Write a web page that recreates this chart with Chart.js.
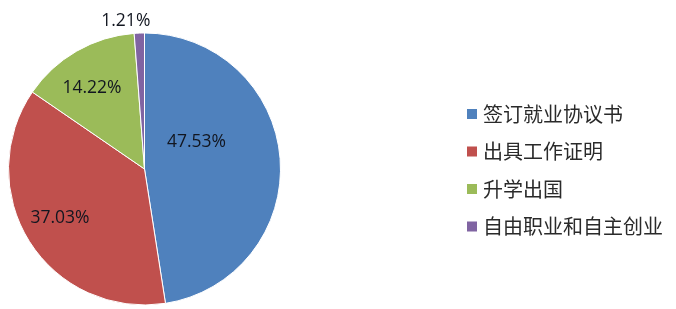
<!DOCTYPE html>
<html>
<head>
<meta charset="utf-8">
<script src="https://cdn.jsdelivr.net/npm/chart.js@4.4.0/dist/chart.umd.min.js"></script>
<style>
html,body{margin:0;padding:0;background:#fff;}
#wrap{position:relative;width:676px;height:309px;}
</style>
</head>
<body>
<div id="wrap"><canvas id="c" width="676" height="309"></canvas></div>
<script>
const categories = ['签订就业协议书', '出具工作证明', '升学出国', '自由职业和自主创业'];
const values = [47.53, 37.03, 14.22, 1.21];
const valueLabels = ['47.53%', '37.03%', '14.22%', '1.21%'];
const colors = ['#4F81BD', '#C0504D', '#9BBB59', '#8064A2'];

// label placement (fraction of radius, angle shift in degrees) - styling only
const labelPlacement = [
  {r: 0.43, shift: -22.7},
  {r: 0.72, shift: 1.9},
  {r: 0.71, shift: -3},
  {r: 1.10, shift: -5}
];

const labelPlugin = {
  id: 'pieLabels',
  afterDatasetsDraw(chart) {
    const ctx = chart.ctx;
    const meta = chart.getDatasetMeta(0);
    ctx.save();
    ctx.font = '17.5px "Open Sans", "Liberation Sans", Arial, sans-serif';
    ctx.fillStyle = '#121620';
    ctx.textAlign = 'center';
    ctx.textBaseline = 'middle';
    meta.data.forEach((arc, i) => {
      const p = arc.getProps(['x','y','startAngle','endAngle','outerRadius'], true);
      const mid = (p.startAngle + p.endAngle) / 2 + labelPlacement[i].shift * Math.PI / 180;
      const rr = p.outerRadius * labelPlacement[i].r;
      ctx.fillText(valueLabels[i], p.x + Math.cos(mid) * rr, p.y + Math.sin(mid) * rr);
    });
    ctx.restore();
  }
};

const legendPlugin = {
  id: 'sideLegend',
  afterDraw(chart) {
    const ctx = chart.ctx;
    ctx.save();
    ctx.font = '20px "Noto Sans CJK SC", sans-serif';
    ctx.textBaseline = 'middle';
    ctx.textAlign = 'left';
    categories.forEach((name, i) => {
      const y = 114 + i * 37.5;
      ctx.fillStyle = colors[i];
      ctx.fillRect(467, y - 5, 10, 10);
      ctx.fillStyle = '#2a2a2a';
      ctx.fillText(name, 483, y);
    });
    ctx.restore();
  }
};

new Chart(document.getElementById('c'), {
  type: 'pie',
  data: {
    labels: categories,
    datasets: [{
      data: values,
      backgroundColor: colors,
      borderColor: '#ffffff',
      borderWidth: 1
    }]
  },
  options: {
    responsive: false,
    animation: false,
    layout: {padding: {top: 32.5, bottom: 3.5, left: 8, right: 395}},
    plugins: {
      legend: {display: false},
      tooltip: {enabled: false}
    }
  },
  plugins: [labelPlugin, legendPlugin]
});
</script>
</body>
</html>
